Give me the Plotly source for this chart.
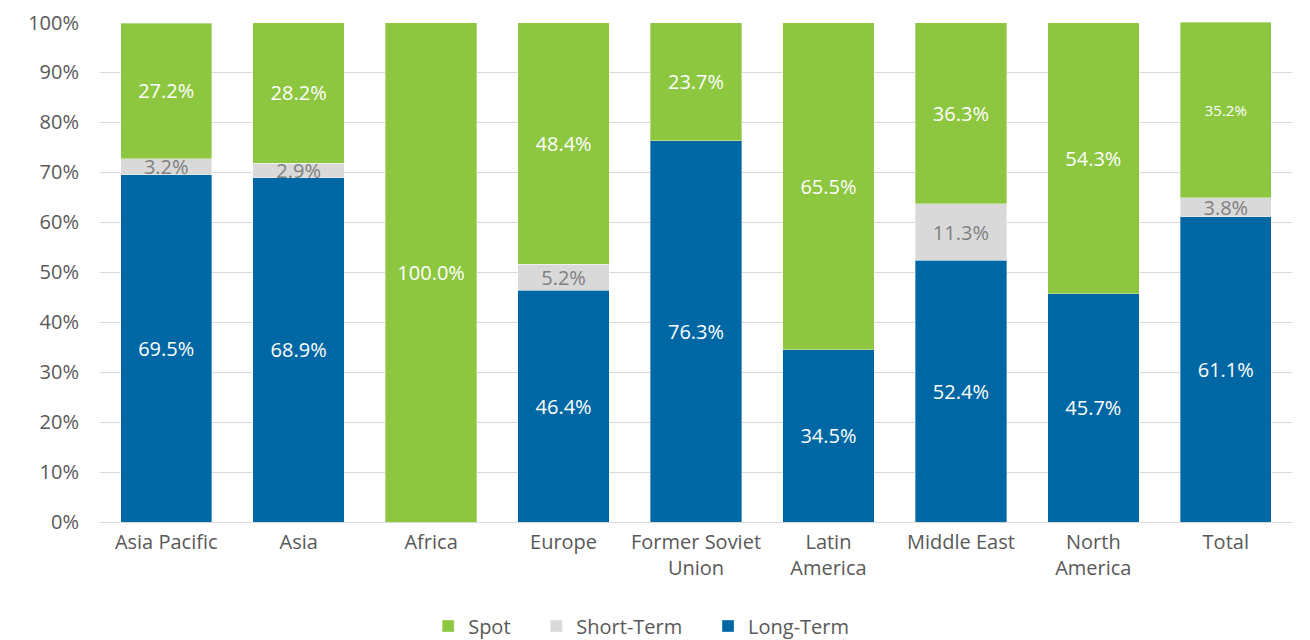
import plotly.graph_objects as go

categories = ["Asia Pacific", "Asia", "Africa", "Europe", "Former Soviet<br>Union",
              "Latin<br>America", "Middle East", "North<br>America", "Total"]
long_term = [69.5, 68.9, 0, 46.4, 76.3, 34.5, 52.4, 45.7, 61.1]
short_term = [3.2, 2.9, 0, 5.2, 0, 0, 11.3, 0, 3.8]
spot = [27.2, 28.2, 100.0, 48.4, 23.7, 65.5, 36.3, 54.3, 35.2]
y_ticks = [0, 10, 20, 30, 40, 50, 60, 70, 80, 90, 100]

FONT = "Open Sans, Noto Sans, sans-serif"
PAD = "\u00a0" * 4  # widens the gap between legend entries


def labels(values):
    return [f"{v:.1f}%" if v > 0 else "" for v in values]


fig = go.Figure()

series = [
    ("Long-Term", "Long-Term", long_term, "#0067A5", "white"),
    ("Short-Term", "Short-Term" + PAD, short_term, "#D9D9D9", "#7F7F7F"),
    ("Spot", "Spot" + PAD, spot, "#8DC63F", "white"),
]
for key, legend_name, vals, color, txtcolor in series:
    sizes = [20] * len(vals)
    if key == "Spot":
        sizes[-1] = 15  # the Total spot label is smaller in the original
    fig.add_trace(go.Bar(
        name=legend_name, x=categories, y=vals,
        marker=dict(color=color, line=dict(color="rgba(255,255,255,0.6)", width=0.6)),
        text=labels(vals), textposition="inside", insidetextanchor="middle",
        textangle=0, constraintext="none",
        textfont=dict(family=FONT, size=sizes, color=txtcolor),
        hovertemplate="%{x}: %{y:.1f}%<extra>" + key + "</extra>",
    ))

# page body adds an 8px margin, so the figure is a bit smaller than the window
fig.update_layout(
    barmode="stack",
    bargap=0.31,
    width=1302, height=632,
    margin=dict(l=92, r=18, t=14, b=118, autoexpand=False),
    plot_bgcolor="white", paper_bgcolor="white",
    font=dict(family=FONT, size=20, color="#595959"),
    legend=dict(orientation="h", x=0.454, xanchor="center", y=-0.208, yanchor="middle",
                traceorder="reversed", font=dict(size=20, color="#595959"),
                itemwidth=30),
)
fig.update_yaxes(range=[0, 100.1], tickmode="array", tickvals=y_ticks,
                 ticktext=[f"{t}%" for t in y_ticks],
                 gridcolor="#D9D9D9", gridwidth=1, zeroline=False, showline=False,
                 ticks="", ticklabeloverflow="allow",
                 tickfont=dict(size=20, color="#595959"), ticklabelstandoff=20)
fig.update_xaxes(showline=True, linecolor="#D9D9D9", ticks="",
                 tickfont=dict(size=20, color="#595959"), ticklabelstandoff=2)

fig.write_html("out.html")
